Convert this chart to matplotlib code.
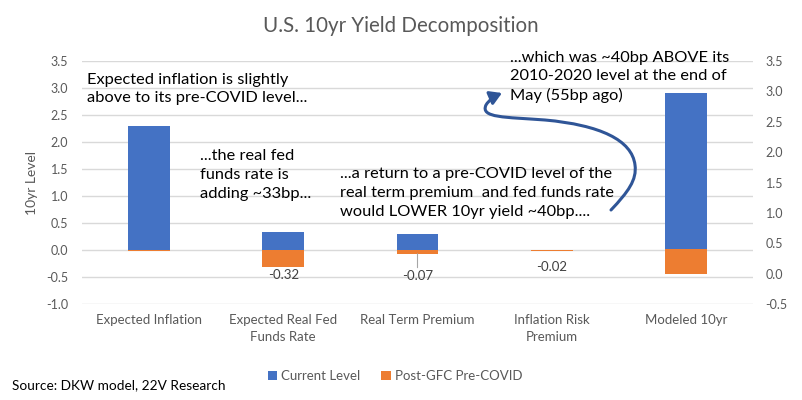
import matplotlib
matplotlib.use("Agg")
import matplotlib.pyplot as plt
import numpy as np
from matplotlib.path import Path
from matplotlib.patches import FancyArrowPatch

# data
categories = ["Expected Inflation", "Expected Real Fed\nFunds Rate", "Real Term Premium",
              "Inflation Risk\nPremium", "Modeled 10yr"]
current_level = [2.30, 0.33, 0.30, 0.00]
pre_covid = [-0.02, -0.32, -0.07, -0.02]
modeled_current = 2.98
modeled_pre_covid = 0.40
labelled = [1, 2, 3]

blue = "#4472C4"
orange = "#ED7D31"
grey = "#595959"

plt.rcParams["font.family"] = ["Lato", "DejaVu Sans"]


def px(x, y):
    # image pixel -> figure fraction
    return x / 802, 1 - y / 400


fig = plt.figure(figsize=(8.02, 4.0), dpi=100)
ax = fig.add_axes([82 / 802, 96 / 400, 671 / 802, 243 / 400])
ax2 = ax.twinx()

x = np.arange(len(categories))
w = 0.31
b1 = ax.bar(x[:4], current_level, w, color=blue, label="Current Level", zorder=2)
b2 = ax.bar(x[:4], pre_covid, w, color=orange, label="Post-GFC Pre-COVID", zorder=3)
ax2.bar(x[4], modeled_current, w, color=blue)
ax2.bar(x[4], modeled_pre_covid, w, color=orange)

ax.set_xlim(-0.5, 4.5)
ax.set_ylim(-1.0, 3.5)
ax.set_yticks(np.arange(-1.0, 3.51, 0.5))
ax.set_yticklabels([f"{v:.1f}" for v in np.arange(-1.0, 3.51, 0.5)])
ax2.set_ylim(-0.5, 3.5)
ax2.set_yticks(np.arange(-0.5, 3.51, 0.5))
ax2.set_yticklabels([f"{v:.1f}" for v in np.arange(-0.5, 3.51, 0.5)])
ax.grid(axis="y", color="#D9D9D9", lw=1, zorder=0)
ax.set_axisbelow(True)
for a in (ax, ax2):
    for s in a.spines.values():
        s.set_visible(False)
ax.set_xticks(x)
ax.set_xticklabels(categories, fontsize=9.5, color=grey, linespacing=1.5)
ax.tick_params(axis="x", length=0, pad=7)
ax.tick_params(axis="y", length=0, pad=10, labelsize=9, labelcolor=grey)
ax2.tick_params(axis="y", length=0, pad=9, labelsize=9, labelcolor=grey)

# value labels on the orange bars
offsets = {1: -1, 2: -12, 3: -7}
for i in labelled:
    ax.annotate(f"{pre_covid[i]:.2f}", (x[i], pre_covid[i]), xytext=(0, offsets[i]),
                textcoords="offset points", ha="center", va="top", fontsize=9.5, color="#404040",
                arrowprops=dict(arrowstyle="-", color="#A6A6A6", lw=0.8, shrinkA=0, shrinkB=0)
                if i == 2 else None)

fig.text(*px(401, 26), "U.S. 10yr Yield Decomposition", fontsize=14.8, color=grey,
         ha="center", va="center")
fig.text(*px(32, 183), "10yr Level", rotation=90, fontsize=10, color=grey,
         ha="center", va="center")

fig.text(*px(87, 89), "Expected inflation is slightly\nabove to its pre-COVID level...",
         fontsize=11.8, va="center", linespacing=1.42)
fig.text(*px(200, 175), "...the real fed\nfunds rate is\nadding ~33bp...",
         fontsize=11.8, va="center", linespacing=1.42)
fig.text(*px(340, 193), "...a return to a pre-COVID level of the\nreal term premium  and fed funds rate\n"
         "would LOWER 10yr yield ~40bp....", fontsize=11.8, va="center", linespacing=1.42)
fig.text(*px(510, 77), "...which was ~40bp ABOVE its\n2010-2020 level at the end of\nMay (55bp ago)",
         fontsize=11.8, va="center", linespacing=1.42)

pts = [(611, 210), (628, 192), (637, 180), (635, 165),
       (632, 140), (600, 125), (545, 120),
       (505, 117), (480, 118), (486, 105),
       (489, 100), (495, 96), (502, 93)]
codes = [Path.MOVETO] + [Path.CURVE4] * 12
arrow = FancyArrowPatch(path=Path([px(*p) for p in pts], codes), transform=fig.transFigure,
                        arrowstyle="-|>,head_length=0.5,head_width=0.3", mutation_scale=14,
                        lw=2.2, color="#2F5597")
fig.patches.append(arrow)

fig.legend(handles=[b1, b2], loc="center", bbox_to_anchor=px(395, 376), ncol=2, frameon=False,
           handlelength=0.7, handleheight=0.7, handletextpad=0.3, columnspacing=1.6,
           fontsize=9.5, labelcolor=grey)
fig.text(*px(12, 385), "Source: DKW model, 22V Research", fontsize=9.8, va="center")

fig.savefig("out.png", dpi=100)
